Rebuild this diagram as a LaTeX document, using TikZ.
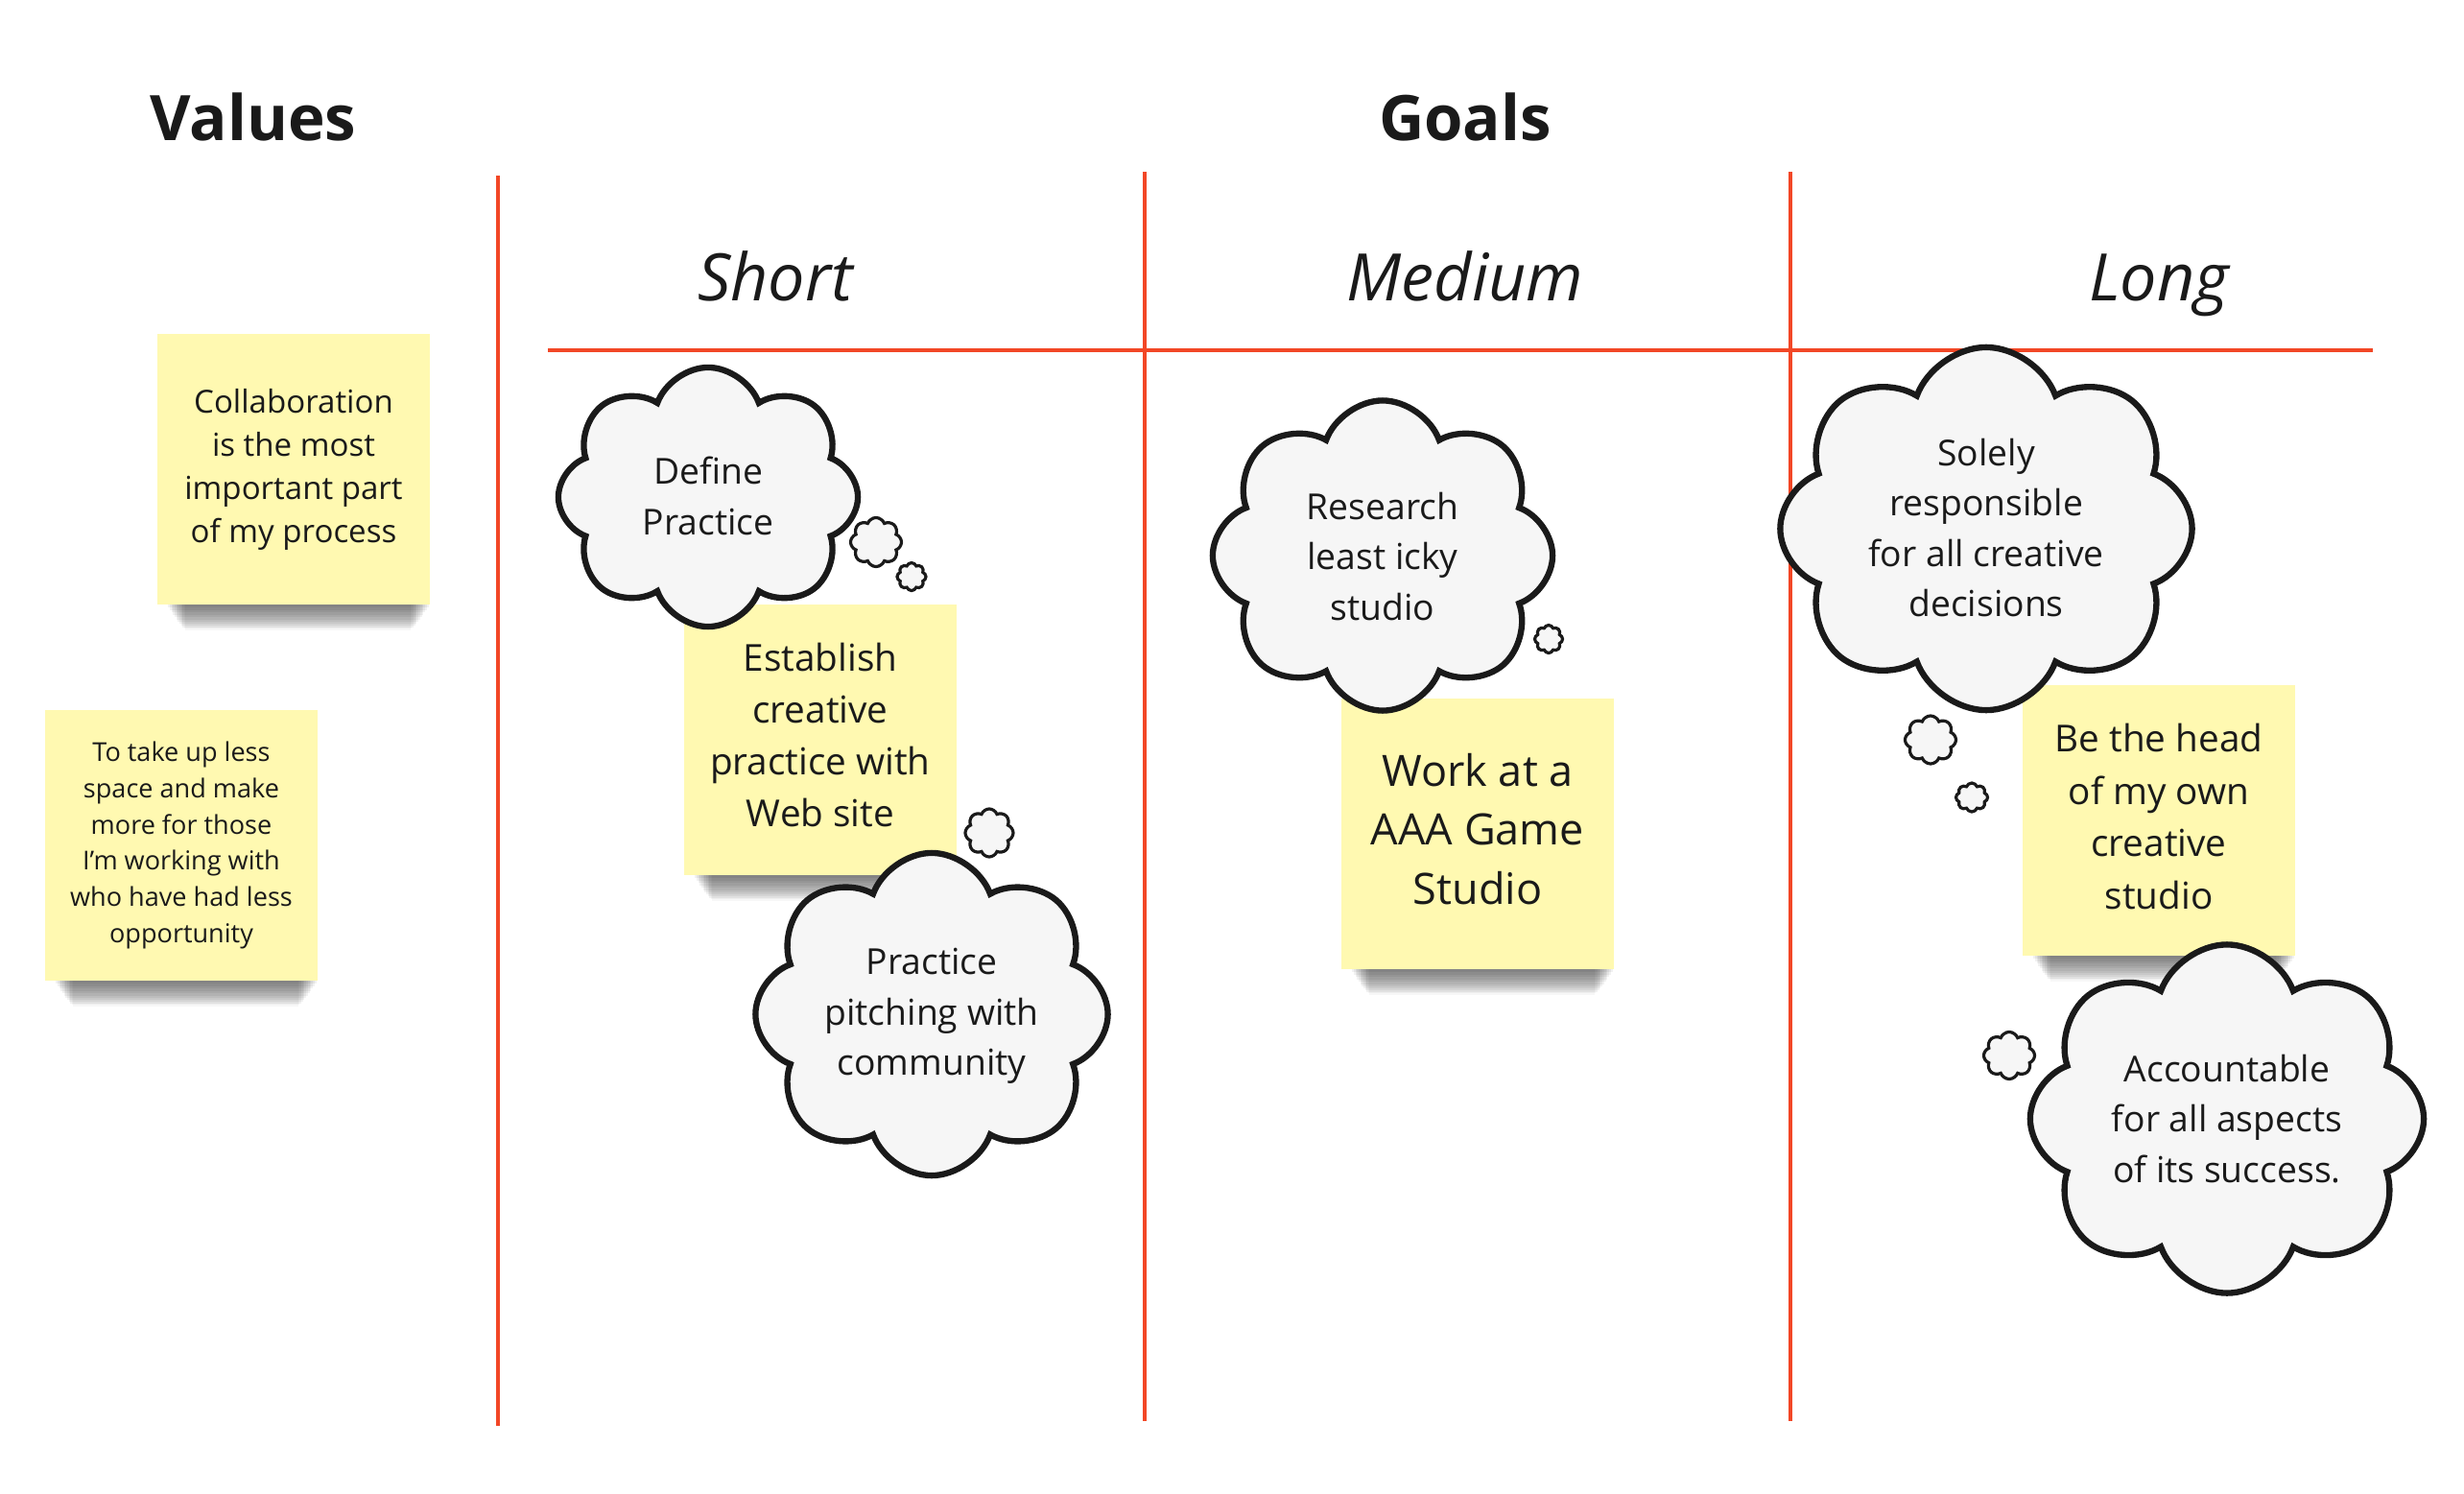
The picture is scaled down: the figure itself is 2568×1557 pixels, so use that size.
\documentclass[tikz,border=0pt]{standalone}
\usepackage{fontspec}
\setmainfont{Open Sans}
\usetikzlibrary{shapes.symbols,shadows}
\definecolor{stickyyellow}{RGB}{255,249,177}
\definecolor{boardred}{RGB}{242,71,38}
\definecolor{ink}{RGB}{26,26,26}
\definecolor{cloudfill}{RGB}{246,246,246}
\tikzset{
  redline/.style={draw=boardred, line width=1.1pt},
  headtitle/.style={anchor=base, text=ink, font=\fontsize{18.6pt}{22pt}\selectfont\bfseries},
  termtitle/.style={anchor=base, text=ink, font=\fontsize{19.4pt}{23pt}\selectfont\itshape},
  softshadow/.style={
    general shadow={fill=black, opacity=0.03, shadow xshift=1.5pt, shadow yshift=-17.5pt, shadow scale=0.83},
    general shadow={fill=black, opacity=0.03, shadow xshift=1.5pt, shadow yshift=-16.2pt, shadow scale=0.84},
    general shadow={fill=black, opacity=0.055, shadow xshift=1.5pt, shadow yshift=-15pt, shadow scale=0.85},
    general shadow={fill=black, opacity=0.055, shadow xshift=1.5pt, shadow yshift=-13.62pt, shadow scale=0.862},
    general shadow={fill=black, opacity=0.055, shadow xshift=1.5pt, shadow yshift=-12.24pt, shadow scale=0.874},
    general shadow={fill=black, opacity=0.055, shadow xshift=1.5pt, shadow yshift=-10.86pt, shadow scale=0.886},
    general shadow={fill=black, opacity=0.055, shadow xshift=1.5pt, shadow yshift=-9.48pt, shadow scale=0.898},
    general shadow={fill=black, opacity=0.055, shadow xshift=1.5pt, shadow yshift=-8.1pt, shadow scale=0.91},
    general shadow={fill=black, opacity=0.055, shadow xshift=1.5pt, shadow yshift=-6.72pt, shadow scale=0.922},
    general shadow={fill=black, opacity=0.055, shadow xshift=1.5pt, shadow yshift=-5.34pt, shadow scale=0.934},
    general shadow={fill=black, opacity=0.055, shadow xshift=1.5pt, shadow yshift=-3.96pt, shadow scale=0.946},
    general shadow={fill=black, opacity=0.055, shadow xshift=1.5pt, shadow yshift=-2.58pt, shadow scale=0.958}},
  sticky/.style={rectangle, fill=stickyyellow, text=ink, align=center,
    minimum width=2.83cm, minimum height=2.82cm, inner sep=0pt, softshadow},
  thought/.style={cloud, cloud puffs=8, cloud puff arc=140, draw=ink, line width=1.8pt,
    fill=cloudfill, inner sep=0pt},
  puff/.style={cloud, cloud puffs=8, cloud puff arc=140, draw=ink, line width=0.9pt,
    fill=cloudfill, inner sep=0pt},
  cloudtext/.style={text=ink, align=center, inner sep=0pt,
    font=\fontsize{10.6pt}{14.9pt}\selectfont},
}
\begin{document}
\begin{tikzpicture}[x=0.01cm, y=-0.01cm]
\useasboundingbox (0,0) rectangle (2568,1557);
\fill[white] (0,0) rectangle (2568,1557);

% titles
\node[headtitle] (values) at (264,146) {Values};
\node[headtitle] (goals) at (1527,146) {Goals};
\node[termtitle] (short) at (808,313) {Short};
\node[termtitle] (medium) at (1527,313) {Medium};
\node[termtitle] (long) at (2250,313) {Long};

% red grid lines
\coordinate (v1t) at (519,183);  \coordinate (v1b) at (519,1486);
\coordinate (v2t) at (1193,179); \coordinate (v2b) at (1193,1481);
\coordinate (v3t) at (1866,179); \coordinate (v3b) at (1866,1481);
\coordinate (hl) at (571,365);   \coordinate (hr) at (2473,365);
\draw[redline] (v1t) -- (v1b);
\draw[redline] (v2t) -- (v2b);
\draw[redline] (v3t) -- (v3b);
\draw[redline] (hl) -- (hr);

% sticky notes
\node[sticky, font=\fontsize{9.4pt}{12.8pt}\selectfont] (n1) at (306,489)
  {Collaboration\\is the most\\important part\\of my process};
\node[sticky, font=\fontsize{7.7pt}{10.75pt}\selectfont] (n2) at (189,881)
  {To take up less\\space and make\\more for those\\I'm working with\\who have had less\\opportunity};
\node[sticky, text depth=3pt, font=\fontsize{11pt}{15.4pt}\selectfont] (n3) at (855,771)
  {Establish\\creative\\practice with\\Web site};
\node[sticky, text depth=3pt, font=\fontsize{12.8pt}{17.5pt}\selectfont] (n4) at (1540,869)
  {Work at a\\AAA Game\\Studio};
\node[sticky, text depth=2.5pt, font=\fontsize{11pt}{15.5pt}\selectfont] (n5) at (2250,855)
  {Be the head\\of my own\\creative\\studio};

% thought clouds
\node[thought, minimum width=3.12cm, minimum height=2.70cm] (c1) at (738,518) {};
\node[cloudtext] (c1t) at (738,517) {Define\\Practice};
\node[puff, minimum width=0.53cm, minimum height=0.51cm] (c1pa) at (913,565) {};
\node[puff, minimum width=0.30cm, minimum height=0.29cm] (c1pb) at (950,601) {};

\node[thought, minimum width=3.67cm, minimum height=3.36cm] (c2) at (971,1057) {};
\node[cloudtext] (c2t) at (971,1059) {Practice\\pitching with\\community};
\node[puff, minimum width=0.50cm, minimum height=0.50cm] (c2p) at (1031,868) {};

\node[thought, minimum width=3.54cm, minimum height=3.23cm] (c3) at (1441,579) {};
\node[cloudtext] (c3t) at (1441,580) {Research\\least icky\\studio};
\node[puff, minimum width=0.29cm, minimum height=0.29cm] (c3p) at (1614,666) {};

\node[thought, minimum width=4.29cm, minimum height=3.78cm] (c4) at (2070,551) {};
\node[cloudtext] (c4t) at (2070,550) {Solely\\responsible\\for all creative\\decisions};
\node[puff, minimum width=0.53cm, minimum height=0.50cm] (c4pa) at (2012,771) {};
\node[puff, minimum width=0.33cm, minimum height=0.30cm] (c4pb) at (2055,831) {};

\node[thought, minimum width=4.10cm, minimum height=3.63cm] (c5) at (2321,1166) {};
\node[cloudtext] (c5t) at (2321,1166) {Accountable\\for all aspects\\of its success.};
\node[puff, minimum width=0.53cm, minimum height=0.49cm] (c5p) at (2094,1100) {};
\end{tikzpicture}
\end{document}
